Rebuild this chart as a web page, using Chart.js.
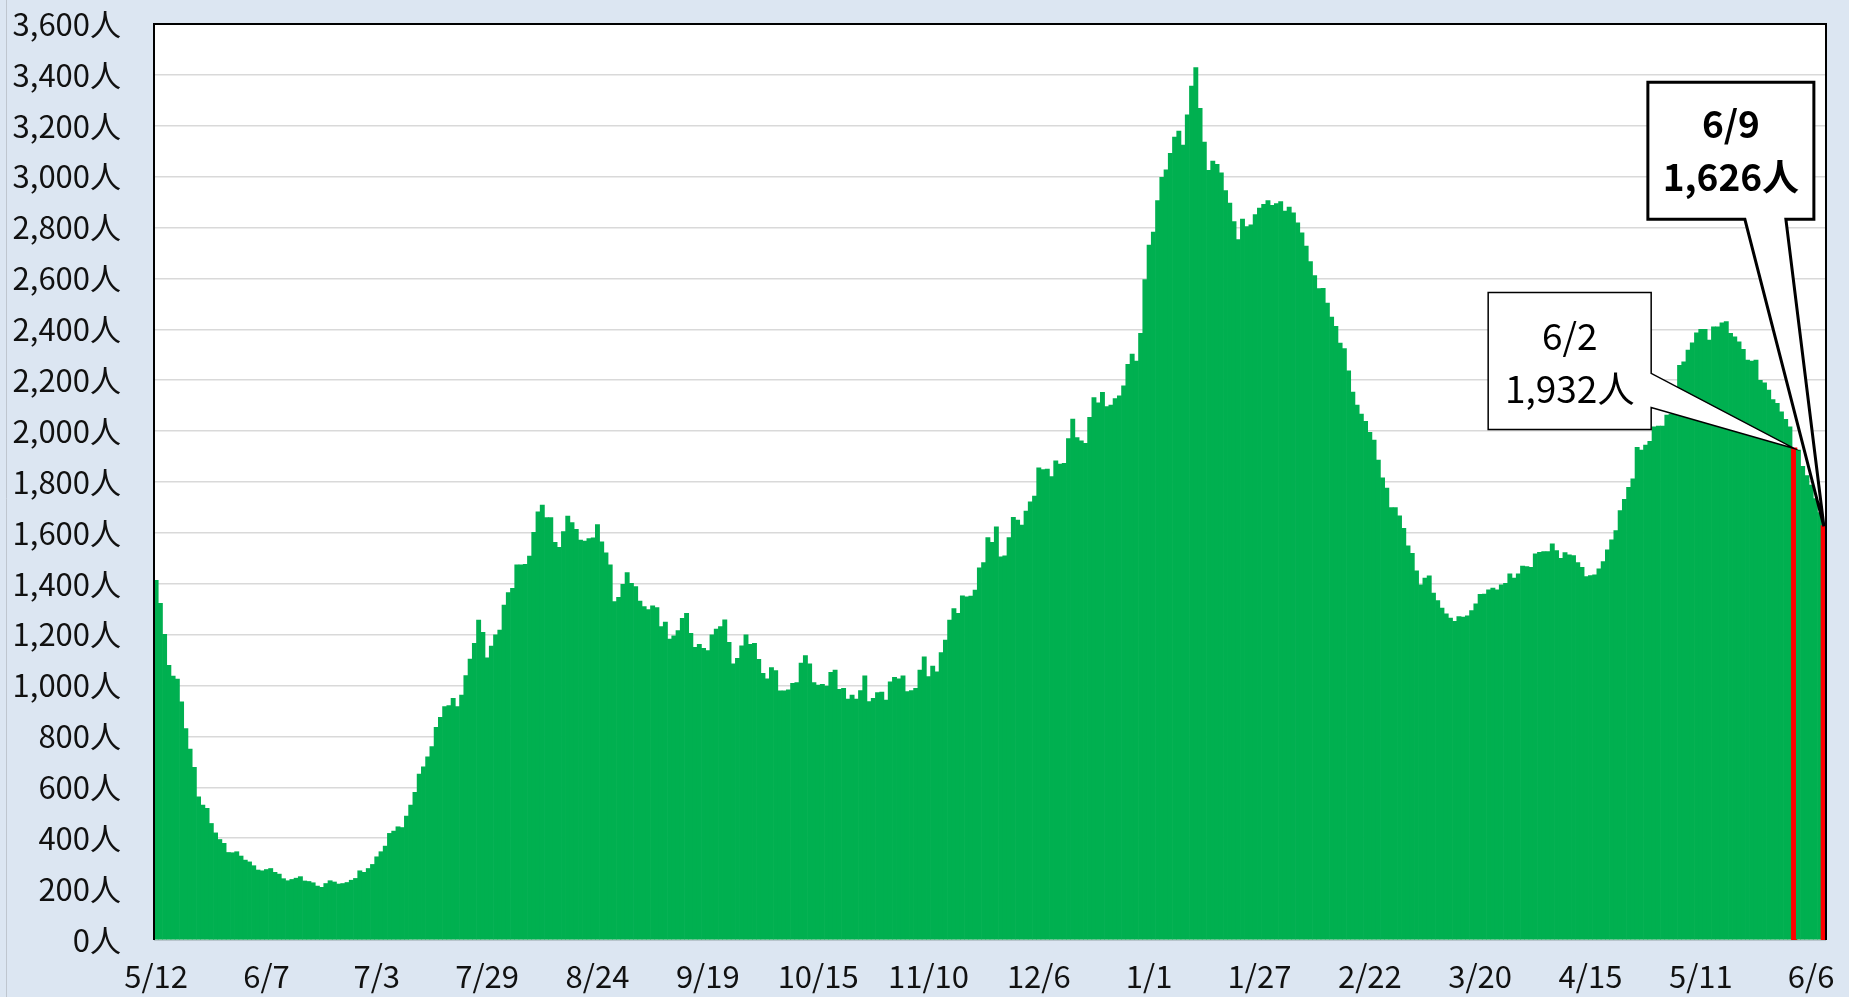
<!DOCTYPE html>
<html>
<head>
<meta charset="utf-8">
<script src="https://cdn.jsdelivr.net/npm/chart.js@4.4.1/dist/chart.umd.min.js"></script>
<style>
  html, body { margin: 0; padding: 0; background: #dce6f2; }
  #wrap { width: 1849px; height: 997px; }
</style>
</head>
<body>
<div id="wrap"><canvas id="chart" width="1849" height="997"></canvas></div>
<script>
// first day of the series, one bar per day
const startDay = Date.UTC(2020, 4, 12)
const tickEvery = 26

// daily values, one row per tick interval (5/12, 6/7, 7/3 ...)
const inpatients = [
  1414, 1323, 1201, 1079, 1037, 1025, 936, 831, 750, 679, 563, 530, 517, 458, 421, 395, 380, 344, 343, 347, 330, 314, 307, 292, 275, 272,
  277, 281, 266, 259, 241, 233, 238, 243, 249, 232, 230, 225, 212, 207, 222, 233, 228, 220, 222, 226, 235, 242, 272, 266, 281, 297,
  327, 347, 369, 419, 428, 445, 442, 487, 530, 580, 652, 681, 720, 760, 836, 875, 917, 921, 950, 917, 963, 1039, 1104, 1166, 1257, 1209,
  1109, 1155, 1199, 1218, 1316, 1365, 1382, 1474, 1474, 1476, 1509, 1602, 1683, 1709, 1660, 1660, 1563, 1543, 1605, 1666, 1641, 1614, 1572, 1568, 1578, 1581,
  1633, 1565, 1522, 1474, 1330, 1347, 1398, 1444, 1402, 1389, 1332, 1310, 1299, 1313, 1306, 1232, 1249, 1183, 1195, 1216, 1264, 1284, 1205, 1150, 1162, 1146,
  1137, 1199, 1222, 1232, 1258, 1170, 1085, 1107, 1156, 1199, 1162, 1166, 1103, 1048, 1026, 1071, 1059, 979, 979, 983, 1009, 1012, 1088, 1118, 1085, 1012,
  1002, 1005, 998, 1052, 1061, 985, 989, 947, 963, 947, 980, 1038, 937, 950, 972, 974, 943, 1015, 1032, 1026, 1038, 976, 980, 989, 1061, 1113,
  1035, 1077, 1054, 1130, 1179, 1257, 1303, 1284, 1353, 1349, 1352, 1375, 1463, 1483, 1582, 1563, 1624, 1506, 1510, 1582, 1661, 1650, 1631, 1686, 1722, 1745,
  1856, 1849, 1851, 1821, 1883, 1870, 1873, 1971, 2047, 1975, 1962, 1952, 2054, 2132, 2111, 2152, 2096, 2102, 2128, 2139, 2178, 2262, 2303, 2275, 2384, 2596,
  2731, 2782, 2906, 2997, 3027, 3092, 3156, 3179, 3124, 3243, 3356, 3429, 3269, 3136, 3025, 3061, 3048, 3015, 2945, 2896, 2823, 2753, 2833, 2804, 2811, 2851,
  2877, 2891, 2906, 2887, 2894, 2902, 2865, 2880, 2858, 2819, 2779, 2727, 2666, 2611, 2560, 2561, 2503, 2448, 2412, 2346, 2324, 2237, 2153, 2102, 2067, 2038,
  1995, 1965, 1886, 1816, 1776, 1699, 1699, 1667, 1618, 1549, 1520, 1451, 1396, 1422, 1431, 1363, 1334, 1304, 1282, 1265, 1252, 1271, 1269, 1274, 1295, 1321,
  1359, 1360, 1376, 1383, 1376, 1396, 1402, 1439, 1422, 1439, 1470, 1468, 1465, 1518, 1524, 1527, 1527, 1557, 1530, 1500, 1523, 1514, 1511, 1483, 1465, 1428,
  1432, 1435, 1459, 1487, 1533, 1573, 1609, 1688, 1732, 1779, 1812, 1936, 1925, 1945, 1960, 2017, 2020, 2020, 2063, 2067, 2070, 2259, 2272, 2318, 2347, 2386,
  2400, 2400, 2358, 2410, 2410, 2426, 2430, 2384, 2371, 2351, 2321, 2279, 2275, 2279, 2200, 2190, 2161, 2124, 2109, 2076, 2046, 2017, 1932, 1925, 1862, 1825,
  1788, 1735, 1680, 1626,
]

// bars drawn in red and given a callout (the 2021 dates)
const highlightDays = ['6/2', '6/9']

const labels = inpatients.map((v, i) => {
  const d = new Date(startDay + i * 86400000)
  return (d.getUTCMonth() + 1) + '/' + d.getUTCDate()
})

const highlightIdx = highlightDays.map((l) => labels.lastIndexOf(l))

const green = '#00b050'
const red = '#ff0000'
const font = '"Noto Sans CJK JP", "Noto Sans", sans-serif'

const barColors = labels.map((l, i) => (highlightIdx.includes(i) ? red : green))
const barInflate = labels.map((l, i) => (highlightIdx.includes(i) ? 1 : 0.33))

/**
 * Callout shapes, placed from the tip (top of the highlighted bar).
 */
const calloutStyles = {
  '6/2': { box: [-306, -143, -156, -19], side: 'right', attach: [-75, -41], bold: false, lw: 1.5, lines: [44, 97] },
  '6/9': { box: [-176, -10, -444, -307], side: 'bottom', attach: [-79, -38], bold: true, lw: 3, lines: [42, 95] },
}

function drawCallout(ctx, tip, label, value) {
  const s = calloutStyles[label]
  const left = tip.x + s.box[0]
  const right = tip.x + s.box[1]
  const top = tip.y + s.box[2]
  const bottom = tip.y + s.box[3]
  ctx.save()
  ctx.beginPath()
  ctx.moveTo(left, top)
  ctx.lineTo(right, top)
  if (s.side === 'right') {
    ctx.lineTo(right, tip.y + s.attach[0])
    ctx.lineTo(tip.x, tip.y)
    ctx.lineTo(right, tip.y + s.attach[1])
    ctx.lineTo(right, bottom)
    ctx.lineTo(left, bottom)
  } else {
    ctx.lineTo(right, bottom)
    ctx.lineTo(tip.x + s.attach[1], bottom)
    ctx.lineTo(tip.x, tip.y)
    ctx.lineTo(tip.x + s.attach[0], bottom)
    ctx.lineTo(left, bottom)
  }
  ctx.closePath()
  ctx.fillStyle = '#fff'
  ctx.fill()
  ctx.lineJoin = 'miter'
  ctx.lineWidth = s.lw
  ctx.strokeStyle = '#000'
  ctx.stroke()

  ctx.fillStyle = '#000'
  ctx.textAlign = 'center'
  ctx.textBaseline = 'middle'
  ctx.font = (s.bold ? 'bold ' : '') + '37px ' + font
  const cx = (left + right) / 2
  ctx.fillText(label, cx, top + s.lines[0])
  ctx.fillText(value.toLocaleString('en-US') + '人', cx, top + s.lines[1])
  ctx.restore()
}

const framePlugin = {
  id: 'frame',
  beforeDraw(chart) {
    const { ctx, chartArea: a } = chart
    ctx.save()
    ctx.fillStyle = '#dce6f2'
    ctx.fillRect(0, 0, chart.width, chart.height)
    ctx.strokeStyle = '#bfc6cf'
    ctx.lineWidth = 1
    ctx.beginPath()
    ctx.moveTo(6.5, 0)
    ctx.lineTo(6.5, chart.height)
    ctx.stroke()
    ctx.fillStyle = '#fff'
    ctx.fillRect(a.left, a.top, a.right - a.left, a.bottom - a.top)
    ctx.restore()
  },
  afterDatasetsDraw(chart) {
    const { ctx, chartArea: a, scales } = chart
    ctx.save()
    ctx.strokeStyle = '#000'
    ctx.lineWidth = 2
    ctx.beginPath()
    ctx.moveTo(a.left, a.bottom)
    ctx.lineTo(a.left, a.top)
    ctx.lineTo(a.right, a.top)
    ctx.lineTo(a.right, a.bottom)
    ctx.stroke()
    ctx.strokeStyle = '#b8c4cc'
    ctx.lineWidth = 1
    ctx.beginPath()
    ctx.moveTo(a.left, a.bottom + 0.5)
    ctx.lineTo(a.right, a.bottom + 0.5)
    ctx.stroke()
    ctx.restore()

    highlightIdx.forEach((i) => {
      const tip = { x: scales.x.getPixelForValue(i), y: scales.y.getPixelForValue(inpatients[i]) }
      drawCallout(ctx, tip, labels[i], inpatients[i])
    })
  },
}

const chart = new Chart(document.querySelector('#chart'), {
  type: 'bar',
  data: {
    labels,
    datasets: [
      {
        data: inpatients,
        backgroundColor: barColors,
        inflateAmount: barInflate,
        borderWidth: 0,
        barPercentage: 1,
        categoryPercentage: 1,
      },
    ],
  },
  options: {
    responsive: false,
    animation: false,
    devicePixelRatio: 1,
    layout: { padding: { top: 24, right: 23, left: 0, bottom: 0 } },
    plugins: {
      legend: { display: false },
      tooltip: { enabled: false },
    },
    scales: {
      x: {
        offset: true,
        grid: { display: false, drawTicks: false },
        border: { display: false },
        ticks: {
          autoSkip: false,
          maxRotation: 0,
          minRotation: 0,
          padding: 18,
          color: '#111',
          font: { family: font, size: 31 },
          callback: (v, i) => (i % tickEvery === 0 ? labels[i] : null),
        },
        afterFit: (axis) => {
          axis.height = 57
          axis.paddingLeft = 0
          axis.paddingRight = 0
        },
      },
      y: {
        min: 0,
        max: 3600,
        grid: { color: '#d9d9d9', lineWidth: 1.5, drawTicks: false },
        border: { display: false },
        ticks: {
          stepSize: 200,
          padding: 33,
          color: '#111',
          font: { family: font, size: 31 },
          callback: (v) => v.toLocaleString('en-US') + '人',
        },
        afterFit: (axis) => {
          axis.width = 154
          axis.paddingTop = 0
          axis.paddingBottom = 0
        },
      },
    },
  },
  plugins: [framePlugin],
})
</script>
</body>
</html>
